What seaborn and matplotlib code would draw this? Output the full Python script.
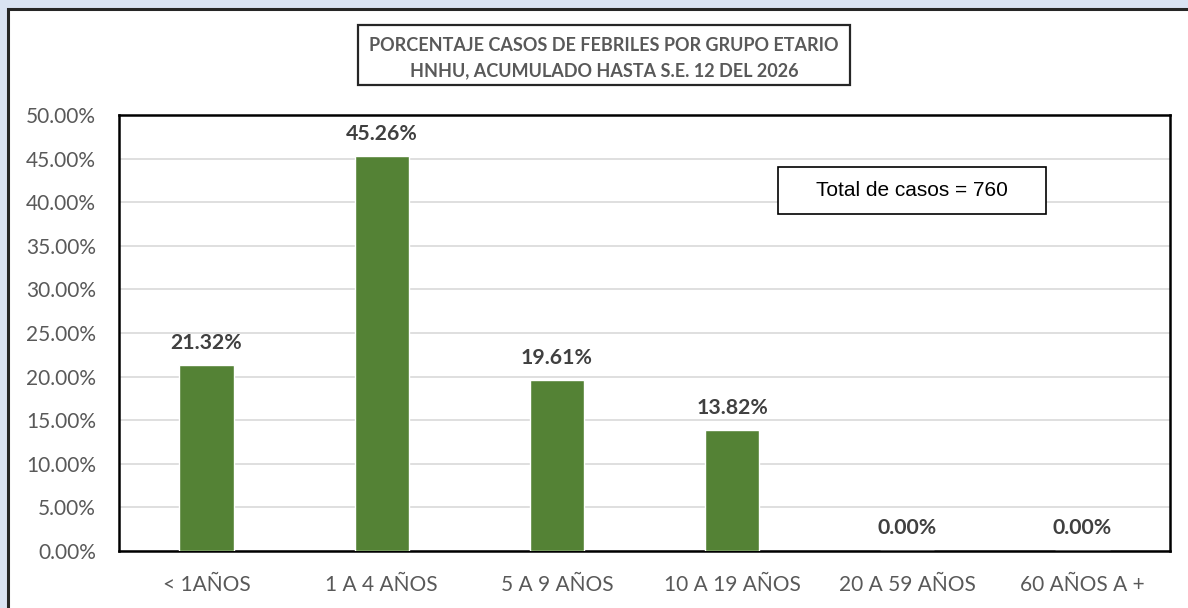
import matplotlib
matplotlib.use("Agg")
import matplotlib.pyplot as plt
import seaborn as sns
import pandas as pd
from matplotlib.patches import Rectangle
from matplotlib.ticker import FuncFormatter, MultipleLocator

categories = ["< 1AÑOS", "1 A 4 AÑOS", "5 A 9 AÑOS", "10 A 19 AÑOS", "20 A 59 AÑOS", "60 AÑOS A +"]
percentages = [21.32, 45.26, 19.61, 13.82, 0.00, 0.00]
title_lines = ["PORCENTAJE CASOS DE FEBRILES POR GRUPO ETARIO", "HNHU, ACUMULADO HASTA S.E. 12 DEL 2026"]
total_text = "Total de casos = 760"

df = pd.DataFrame({"grupo": categories, "pct": [p / 100 for p in percentages]})

sns.set_theme(style="white")
plt.rcParams['font.family'] = ['Lato', 'DejaVu Sans']

W, H = 1188, 608
fig = plt.figure(figsize=(W / 100, H / 100), dpi=100)
fig.patch.set_facecolor("#DAE3F3")


def fig_rect(x0, y0, x1, y1, **kw):
    r = Rectangle((x0 / W, 1 - y1 / H), (x1 - x0) / W, (y1 - y0) / H,
                  transform=fig.transFigure, **kw)
    fig.add_artist(r)
    return r


# white chart panel with dark border
fig_rect(8, 9, 1230, 650, facecolor="white", edgecolor="#262626", linewidth=2.2, zorder=-10)

ax = fig.add_axes([119 / W, 1 - 551 / H, (1170 - 119) / W, (551 - 115) / H], zorder=1)
sns.barplot(data=df, x="grupo", y="pct", color="#548235", saturation=1, width=0.31, ax=ax, zorder=3)

ax.set_ylim(0, 0.5)
ax.yaxis.set_major_locator(MultipleLocator(0.05))
ax.yaxis.set_major_formatter(FuncFormatter(lambda v, p: f"{v * 100:.2f}%"))
ax.grid(axis="y", color="#D9D9D9", linewidth=1.2, zorder=0)
ax.set_axisbelow(True)
ax.set_xlabel("")
ax.set_ylabel("")
for s in ax.spines.values():
    s.set_visible(True)
    s.set_color("black")
    s.set_linewidth(1.8)
ax.tick_params(axis="both", length=0, labelsize=15, labelcolor="#595959")
ax.tick_params(axis="x", pad=17)
ax.tick_params(axis="y", pad=16.5)

for i, p in enumerate(percentages):
    ax.annotate(f"{p:.2f}%", (i, p / 100), xytext=(0, 9), textcoords="offset points",
                ha="center", va="bottom", fontsize=15.3, fontweight="bold", color="#404040")

# title box
fig_rect(358, 25, 850, 85, facecolor="white", edgecolor="#262626", linewidth=1.6, zorder=5)
fig.text(604 / W, 1 - 58 / H, "\n".join(title_lines), ha="center", va="center",
         fontsize=13, fontweight="bold", color="#595959", linespacing=1.55, zorder=6)

# total box
fig_rect(778, 167, 1046, 214, facecolor="white", edgecolor="black", linewidth=1.2, zorder=5)
fig.text(912 / W, 1 - 191 / H, total_text, ha="center", va="center",
         fontsize=15, color="black", family=["Liberation Sans", "DejaVu Sans"], zorder=6)

fig.savefig("out.png", dpi=100, facecolor=fig.get_facecolor())
